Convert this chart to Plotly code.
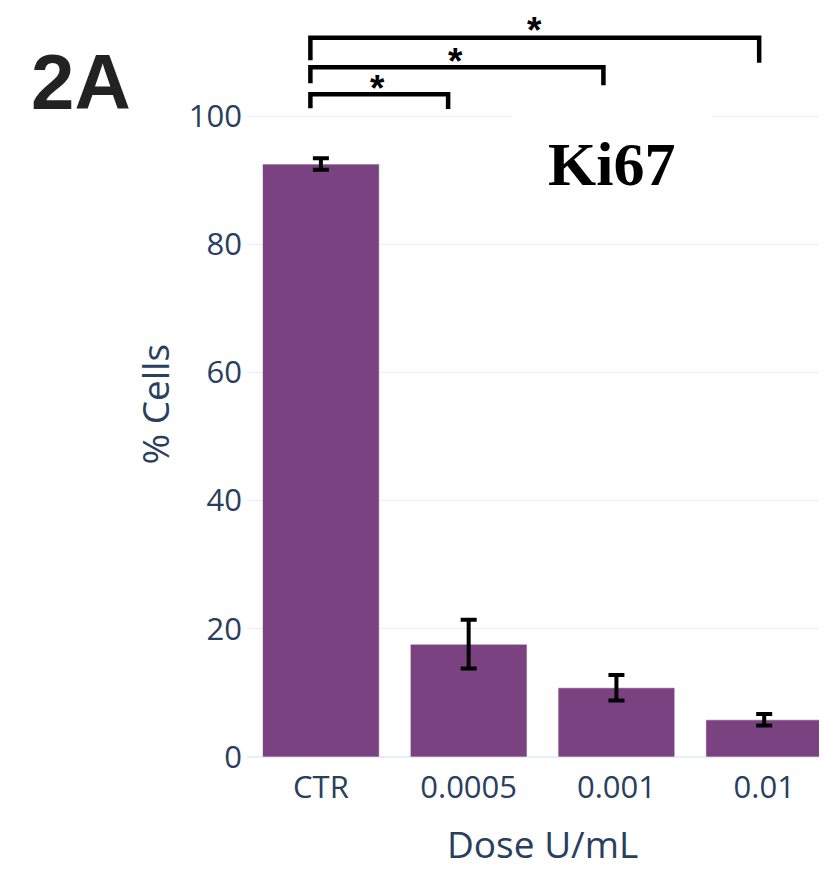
import plotly.graph_objects as go

# ---- data ----
doses = ["CTR", "0.0005", "0.001", "0.01"]
pct_cells = [92.5, 17.6, 10.8, 5.8]
pct_err = [0.9, 3.8, 2.0, 0.9]
y_ticks = [0, 20, 40, 60, 80, 100]

# significance comparisons: (from category, to category, label)
comparisons = [("CTR", "0.0005", "*"), ("CTR", "0.001", "*"), ("CTR", "0.01", "*")]

# ---- figure ----
fig = go.Figure()
fig.add_trace(go.Bar(
    x=doses, y=pct_cells,
    marker=dict(color="#7B4281", line=dict(color="rgba(255,255,255,0.6)", width=1)),
    error_y=dict(type="data", array=pct_err, visible=True,
                 color="black", thickness=4, width=8),
    showlegend=False,
))

# bracket styling (layout, in category-index / data units)
bracket_levels = [103.4, 107.6, 112.2]     # height of horizontal bar
bracket_left_drop = [101.2, 105.1, 108.7]  # lower end of left leg
bracket_right_drop = [101.1, 104.8, 108.3] # lower end of right leg
bracket_left_off = -0.071
bracket_right_off = [-0.139, -0.088, -0.034]
star_pos = [(0.38, 105.6), (0.908, 109.8), (1.444, 114.6)]

for k, (a, b, lab) in enumerate(comparisons):
    xa = doses.index(a) + bracket_left_off
    xb = doses.index(b) + bracket_right_off[k]
    h = bracket_levels[k]
    path = (f"M {xa},{bracket_left_drop[k]} L {xa},{h} "
            f"L {xb},{h} L {xb},{bracket_right_drop[k]}")
    fig.add_shape(type="path", path=path, xref="x", yref="y",
                  line=dict(color="black", width=4.5), layer="above")
    sx, sy = star_pos[k]
    fig.add_annotation(x=sx, y=sy, xref="x", yref="y", text=f"<b>{lab}</b>",
                       showarrow=False, xanchor="center", yanchor="top",
                       yshift=14,
                       font=dict(family="Liberation Sans", size=37, color="black"))

# white patch interrupting the 100 gridline (as in the reference)
fig.add_shape(type="rect", x0=1.295, x1=2.644, y0=99.0, y1=101.0,
              xref="x", yref="y", fillcolor="white", line=dict(width=0),
              layer="between")

# Ki67 label
fig.add_annotation(x=1.966, y=92.2, xref="x", yref="y", text="<b>Ki67</b>",
                   showarrow=False, xanchor="center", yanchor="middle",
                   yshift=2,
                   font=dict(family="Liberation Serif", size=62, color="black"))

# panel label
fig.add_annotation(x=0, y=1, xref="paper", yref="paper", text="<b>2A</b>",
                   showarrow=False, xanchor="left", yanchor="top",
                   xshift=-218, yshift=-28,
                   font=dict(family="Liberation Sans", size=78, color="#222222"))

# axis titles as annotations for exact placement
fig.add_annotation(x=1.5, y=0, xref="x", yref="paper", text="Dose U/mL",
                   showarrow=False, xanchor="center", yanchor="middle",
                   yshift=-86,
                   font=dict(family="Open Sans", size=37, color="#2a3f5f"))
fig.add_annotation(x=0, y=0.5, xref="paper", yref="paper", text="% Cells",
                   showarrow=False, textangle=-90, xanchor="center", yanchor="middle",
                   xshift=-93, yshift=-22,
                   font=dict(family="Open Sans", size=37, color="#2a3f5f"))

fig.update_layout(
    template="plotly_white",
    width=819, height=866,
    margin=dict(l=239, r=0, t=0, b=117),
    bargap=0.21,
    font=dict(family="Open Sans", color="#2a3f5f"),
)
fig.update_xaxes(type="category", range=[-0.5, 3.425],
                 tickfont=dict(size=31), showgrid=False, ticklabelstandoff=9)
fig.update_yaxes(range=[0, 116.85], tickvals=y_ticks,
                 tickfont=dict(size=31), gridcolor="#E8EDF6",
                 zerolinecolor="#E8EDF6", zerolinewidth=2,
                 ticklabelstandoff=4)

fig.write_html("out.html")
